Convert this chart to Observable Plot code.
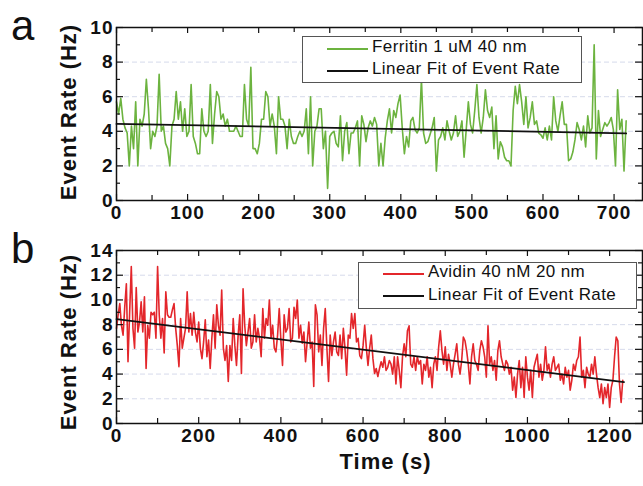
<!DOCTYPE html>
<html>
<head>
<meta charset="utf-8">
<script src="https://cdn.jsdelivr.net/npm/d3@7"></script>
<script src="https://cdn.jsdelivr.net/npm/@observablehq/plot@0.6"></script>
<style>
  body { margin: 0; background: #fff; }
  #page { position: relative; width: 643px; height: 486px; overflow: hidden; background: #fff;
          font-family: "Liberation Sans", Arial, sans-serif; color: #111; }
  .panel { position: absolute; left: 0; }
  .letter { position: absolute; left: 11px; font-family: "Liberation Sans", Arial, sans-serif; font-size: 42px;
            line-height: normal; color: #111; }
  .legend { position: absolute; background: #fff; border: 1px solid #555; box-sizing: border-box; }
  .legend .sw { position: absolute; left: 24px; width: 41px; height: 0; }
  .legend .lt { position: absolute; left: 69px; font-size: 17px; line-height: 20px; white-space: nowrap;
                letter-spacing: 0.4px; color: #111; }
</style>
</head>
<body>
<div id="page">
  <div id="panelA" class="panel" style="top:0px"></div>
  <div id="panelB" class="panel" style="top:225px"></div>
  <div class="letter" style="top:2px">a</div>
  <div class="letter" style="top:225px">b</div>
  <div class="legend" style="left:302px;top:36px;width:280px;height:47px">
    <div class="sw" style="top:11px;border-top:2px solid #6cb33f"></div>
    <div class="lt" style="top:0px">Ferritin 1 uM 40 nm</div>
    <div class="sw" style="top:33px;border-top:2px solid #111"></div>
    <div class="lt" style="top:22px">Linear Fit of Event Rate</div>
  </div>
  <div class="legend" style="left:358px;top:262px;width:279px;height:47px">
    <div class="sw" style="top:10px;border-top:2px solid #e3262b"></div>
    <div class="lt" style="top:-1px">Avidin 40 nM 20 nm</div>
    <div class="sw" style="top:32px;border-top:2px solid #111"></div>
    <div class="lt" style="top:22px">Linear Fit of Event Rate</div>
  </div>
</div>
<script>
// ---------- Panel a: Ferritin 1 uM 40 nm (event rate, Hz; one value every 3 s) ----------
const ferritinStep = 3;
const ferritinRate = [
  5.7, 5.0, 5.9, 4.7, 4.2, 3.9, 2.0, 4.3, 3.0, 5.7,
  2.0, 4.7, 4.3, 5.0, 7.0, 5.3, 3.0, 4.0, 3.7, 4.3,
  7.3, 4.0, 4.3, 3.3, 3.0, 2.0, 4.3, 4.7, 6.3, 4.7,
  5.7, 4.0, 5.3, 3.7, 4.0, 6.7, 3.7, 3.3, 2.7, 2.7,
  5.3, 4.0, 3.7, 4.0, 6.7, 3.3, 5.0, 6.3, 6.0, 4.7,
  5.0, 4.3, 4.7, 4.0, 4.0, 4.0, 4.3, 4.0, 3.7, 3.7,
  6.7, 4.7, 4.3, 7.7, 3.0, 3.0, 2.7, 3.3, 4.7, 4.7,
  6.3, 6.0, 4.3, 5.0, 4.3, 2.7, 6.0, 4.7, 4.7, 4.3,
  3.0, 4.7, 3.7, 3.3, 3.3, 3.7, 4.0, 3.7, 4.0, 5.3,
  2.7, 6.0, 2.0, 4.0, 4.3, 5.3, 5.3, 3.0, 4.0, 0.7,
  3.7, 3.9, 4.0, 3.3, 3.1, 4.9, 2.3, 4.0, 4.5, 2.7,
  3.9, 3.9, 4.2, 4.6, 2.0, 4.9, 4.4, 3.4, 4.2, 4.6,
  4.3, 4.8, 4.4, 2.0, 3.3, 2.0, 3.6, 4.6, 5.3, 3.9,
  5.2, 4.8, 5.6, 6.1, 4.2, 2.7, 3.7, 3.1, 4.6, 4.8,
  4.1, 3.9, 4.2, 7.0, 3.9, 3.3, 3.4, 3.8, 4.2, 4.8,
  1.7, 3.5, 3.7, 4.2, 3.5, 4.6, 4.0, 3.5, 3.9, 4.9,
  3.7, 4.0, 4.6, 2.5, 4.1, 5.7, 4.4, 3.9, 5.2, 6.7,
  4.8, 3.9, 4.8, 6.4, 5.2, 4.8, 5.4, 3.0, 4.9, 2.4,
  3.4, 3.1, 2.5, 2.3, 2.3, 2.0, 5.2, 6.6, 5.6, 6.7,
  5.7, 4.4, 6.0, 4.2, 4.8, 5.7, 4.4, 4.6, 3.9, 3.8,
  3.6, 4.2, 3.5, 4.3, 3.5, 6.0, 4.6, 4.0, 4.9, 5.7,
  4.4, 4.4, 2.3, 2.4, 2.8, 3.5, 4.5, 4.1, 3.5, 4.3,
  3.1, 4.9, 3.9, 4.2, 9.0, 2.4, 5.2, 3.7, 4.1, 4.5,
  4.3, 4.5, 4.8, 4.1, 2.0, 6.4, 4.1, 4.7, 1.7, 4.6
];
const ferritinFitTime = [0, 717];
const ferritinFitRate = [4.43, 3.88];

// ---------- Panel b: Avidin 40 nM 20 nm (event rate, Hz; one value every 4 s) ----------
const avidinStep = 4;
const avidinRate = [
  7.7, 8.8, 9.7, 7.95, 7.15, 9.4, 11.3, 5.0, 9.0, 12.7,
  7.7, 6.1, 11.0, 7.4, 8.2, 9.85, 7.4, 10.25, 4.45, 7.95,
  6.9, 9.0, 8.8, 9.0, 6.9, 12.7, 8.8, 6.9, 8.5, 5.7,
  10.65, 8.8, 8.6, 8.6, 9.2, 9.7, 7.7, 6.3, 4.6, 8.5,
  6.1, 6.9, 7.7, 10.65, 7.4, 8.9, 7.15, 9.0, 7.4, 6.6,
  8.2, 6.1, 5.25, 6.6, 8.4, 5.4, 6.75, 4.45, 6.9, 8.8,
  6.1, 9.6, 7.95, 7.15, 10.8, 6.1, 5.1, 6.3, 3.4, 6.3,
  5.1, 8.5, 6.3, 4.7, 7.15, 8.8, 4.05, 10.9, 7.95, 6.3,
  7.4, 8.5, 6.1, 6.6, 8.8, 6.6, 7.7, 6.9, 5.4, 9.3,
  6.9, 8.5, 7.95, 10.0, 6.9, 7.95, 6.1, 5.8, 7.15, 9.3,
  6.75, 4.7, 8.8, 7.4, 7.7, 9.3, 6.6, 6.9, 9.4, 8.5,
  10.0, 6.9, 7.95, 6.5, 7.4, 5.0, 6.6, 8.2, 6.1, 6.6,
  3.0, 9.6, 8.8, 5.8, 7.15, 4.7, 7.7, 9.3, 6.1, 3.4,
  7.15, 5.5, 6.6, 7.4, 5.8, 5.5, 7.15, 5.25, 7.7, 6.1,
  3.9, 7.15, 6.9, 8.9, 7.7, 8.9, 6.6, 6.9, 5.5, 5.25,
  6.3, 7.95, 6.1, 4.7, 6.1, 7.15, 5.25, 4.05, 4.45, 3.8,
  4.45, 5.0, 4.55,
  5.4, 4.3, 4.55, 5.1, 4.8, 4.0, 5.4, 3.2, 5.4, 4.3,
  2.9, 5.4, 6.45, 5.4, 7.5, 7.9, 4.8, 4.55, 5.4, 4.3,
  5.4, 4.8, 5.1, 3.2, 4.8, 4.3, 5.4, 3.75, 4.55, 2.9,
  4.8, 5.4, 4.3, 6.2, 7.5, 5.9, 4.8, 6.2, 4.3, 5.6,
  4.8, 3.75, 4.8, 5.6, 6.45, 4.8, 4.0, 5.1, 7.0, 6.7,
  5.9, 4.8, 3.2, 5.4, 6.45, 5.1, 4.8, 4.3, 5.9, 6.7,
  6.2, 5.4, 3.75, 7.9, 4.8, 5.4, 4.3, 5.1, 3.5, 5.9,
  6.7, 5.4, 4.8, 4.3, 5.1, 4.8, 4.0, 4.55, 2.7, 3.75,
  2.1, 4.0, 5.1, 2.9, 4.55, 2.1, 5.4, 3.75, 2.7, 4.3,
  2.1, 4.55, 5.1, 5.6, 3.75, 4.8, 3.5, 4.3, 6.2, 4.3,
  4.8, 3.75, 4.8, 5.4, 4.3, 4.55, 4.8, 3.5, 4.0, 3.2,
  4.55, 3.75, 4.3, 2.7, 3.5, 4.8, 4.3, 5.1, 5.4, 7.0,
  3.75, 4.3, 2.9, 4.55, 4.0, 3.75, 4.8, 4.0, 5.4, 4.0,
  2.9, 2.1, 3.2, 1.6, 2.9, 2.1, 3.2, 1.3, 2.9, 3.5,
  5.4, 7.0, 6.7, 3.2, 1.7, 3.5
];
const avidinFitTime = [0, 1235];
const avidinFitRate = [8.45, 3.35];

// ---------- axis ticks ----------
const xMajorA = [0, 100, 200, 300, 400, 500, 600, 700];
const xMinorA = [50, 150, 250, 350, 450, 550, 650];
const yMajorA = [0, 2, 4, 6, 8, 10];
const yMinorA = [1, 3, 5, 7, 9];
const xMajorB = [0, 200, 400, 600, 800, 1000, 1200];
const xMinorB = [100, 300, 500, 700, 900, 1100];
const yMajorB = [0, 2, 4, 6, 8, 10, 12, 14];
const yMinorB = [1, 3, 5, 7, 9, 11, 13];

const W = 643, ML = 116, MR = 1;
const FW = W - ML - MR;
const FH = 173;

function panel({series, step, color, fitT, fitV, xDomain, yDomain, xMajor, xMinor, yMajor, yMinor,
                height, marginTop, yLabelDy, extra = []}) {
  const data = series.map((v, i) => ({t: i * step, v}));
  const fit = fitT.map((t, i) => ({t, v: fitV[i]}));
  const tickStyle = {stroke: "#111", strokeWidth: 1.2};
  const marginBottom = height - marginTop - FH;
  return Plot.plot({
    width: W, height, marginLeft: ML, marginRight: MR, marginTop, marginBottom,
    style: {fontFamily: '"Liberation Sans", Arial, sans-serif', fontSize: "19px", color: "#111",
            background: "transparent", overflow: "visible", letterSpacing: "1px"},
    x: {domain: xDomain},
    y: {domain: yDomain},
    marks: [
      Plot.gridY(yMajor.slice(1, -1), {stroke: "#d6daeb", strokeOpacity: 1, strokeDasharray: "5,3", strokeWidth: 1}),
      Plot.line(data, {x: "t", y: "v", stroke: color, strokeWidth: 1.6}),
      Plot.line(fit, {x: "t", y: "v", stroke: "#111", strokeWidth: 1.8}),
      // inward ticks on all four sides
      Plot.tickX(xMajor, {x: d => d, insetTop: FH - 6, ...tickStyle}),
      Plot.tickX(xMajor, {x: d => d, insetBottom: FH - 6, ...tickStyle}),
      Plot.tickX(xMinor, {x: d => d, insetTop: FH - 5, ...tickStyle}),
      Plot.tickX(xMinor, {x: d => d, insetBottom: FH - 5, ...tickStyle}),
      Plot.tickY(yMajor, {y: d => d, insetRight: FW - 7, ...tickStyle}),
      Plot.tickY(yMajor, {y: d => d, insetLeft: FW - 7, ...tickStyle}),
      Plot.tickY(yMinor, {y: d => d, insetRight: FW - 4, ...tickStyle}),
      Plot.tickY(yMinor, {y: d => d, insetLeft: FW - 4, ...tickStyle}),
      Plot.frame({stroke: "#111", strokeWidth: 1.5}),
      Plot.axisX(xMajor, {anchor: "bottom", tickSize: 0, tickPadding: 5, tickFormat: "d",
                          fontSize: 19, fontWeight: "bold", label: null}),
      Plot.axisY(yMajor, {anchor: "left", tickSize: 0, tickPadding: 3, tickFormat: "d",
                          fontSize: 19, fontWeight: "bold", label: null}),
      Plot.text(["Event Rate (Hz)"], {frameAnchor: "left", textAnchor: "middle", lineAnchor: "middle",
                                     dx: -48, dy: yLabelDy, rotate: -90,
                                     fontSize: 22, fontWeight: "bold", fill: "#111"}),
      ...extra
    ]
  });
}

document.getElementById("panelA").appendChild(panel({
  series: ferritinRate, step: ferritinStep, color: "#6cb33f",
  fitT: ferritinFitTime, fitV: ferritinFitRate,
  xDomain: [0, 740], yDomain: [0, 10],
  xMajor: xMajorA, xMinor: xMinorA, yMajor: yMajorA, yMinor: yMinorA,
  height: 225, marginTop: 27, yLabelDy: -2
}));

document.getElementById("panelB").appendChild(panel({
  series: avidinRate, step: avidinStep, color: "#e3262b",
  fitT: avidinFitTime, fitV: avidinFitRate,
  xDomain: [0, 1280], yDomain: [0, 14],
  xMajor: xMajorB, xMinor: xMinorB, yMajor: yMajorB, yMinor: yMinorB,
  height: 261, marginTop: 25, yLabelDy: 5,
  extra: [Plot.text(["Time (s)"], {frameAnchor: "bottom", dx: 6, dy: 45, fontSize: 22, fontWeight: "bold", fill: "#111"})]
}));
</script>
</body>
</html>
